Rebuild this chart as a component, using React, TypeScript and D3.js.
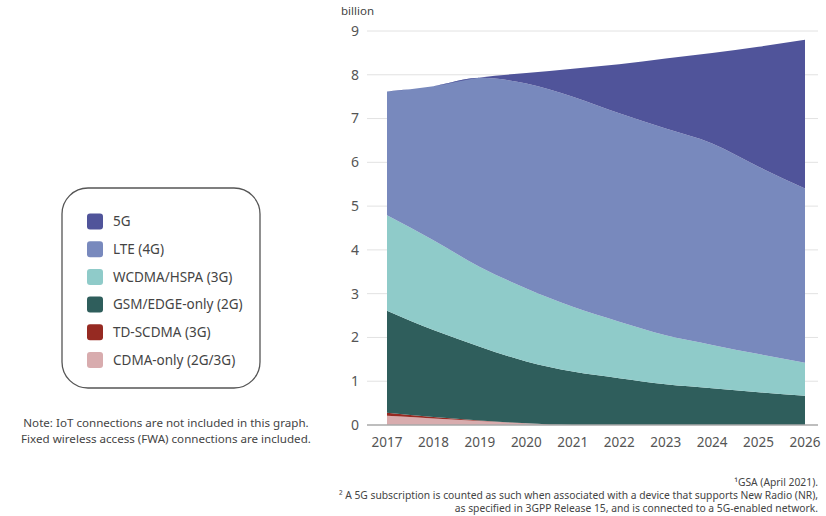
import * as d3 from "d3";

const years = [2017, 2018, 2019, 2020, 2021, 2022, 2023, 2024, 2025, 2026];

// billions of subscriptions
const cdma = [0.21, 0.15, 0.09, 0.04, 0, 0, 0, 0, 0, 0];
const tdscdma = [0.07, 0.03, 0.01, 0, 0, 0, 0, 0, 0, 0];
const gsm = [2.33, 1.99, 1.69, 1.41, 1.22, 1.07, 0.93, 0.84, 0.75, 0.67];
const wcdma = [2.18, 2.05, 1.82, 1.67, 1.48, 1.29, 1.12, 0.99, 0.87, 0.75];
const lte = [2.83, 3.52, 4.32, 4.68, 4.8, 4.76, 4.72, 4.6, 4.28, 3.98];
const fiveG = [0, 0, 0.01, 0.24, 0.64, 1.12, 1.6, 2.07, 2.74, 3.4];

const yTicks = [0, 1, 2, 3, 4, 5, 6, 7, 8, 9];

const series = [
  { key: "cdma", label: "CDMA-only (2G/3G)", color: "#d8acae", values: cdma },
  { key: "td", label: "TD-SCDMA (3G)", color: "#962a22", values: tdscdma },
  { key: "gsm", label: "GSM/EDGE-only (2G)", color: "#2f5e5c", values: gsm },
  { key: "wcdma", label: "WCDMA/HSPA (3G)", color: "#8fcbc9", values: wcdma },
  { key: "lte", label: "LTE (4G)", color: "#7889bd", values: lte },
  { key: "5g", label: "5G", color: "#50549a", values: fiveG },
];

const font = "'Noto Sans', sans-serif";

export default function App() {
  const width = 826;
  const height = 516;
  const x = d3.scaleLinear().domain([2017, 2026]).range([387, 805]);
  const y = d3.scaleLinear().domain([0, 9]).range([425, 31]);

  const rows = years.map((yr, i) => {
    const r: Record<string, number> = { year: yr };
    series.forEach((s) => (r[s.key] = s.values[i]));
    return r;
  });
  const stacked = d3.stack<Record<string, number>>().keys(series.map((s) => s.key))(rows);

  const area = d3
    .area<d3.SeriesPoint<Record<string, number>>>()
    .x((d) => x(d.data.year))
    .y0((d) => y(d[0]))
    .y1((d) => y(d[1]))
    .curve(d3.curveMonotoneX);

  const legendItems = [...series].reverse();

  return (
    <svg width={width} height={height} style={{ position: "absolute", left: 0, top: 0 }}>
      <rect width={width} height={height} fill="#fff" />
      {/* grid */}
      {yTicks.map((t) => (
        <g key={t}>
          {t > 0 && (
            <line x1={367} x2={818} y1={y(t)} y2={y(t)} stroke="#e2e2e2" strokeWidth={1} />
          )}
          <text
            x={355}
            y={y(t)}
            dy="0.35em"
            textAnchor="middle"
            fontFamily={font}
            fontSize={14}
            fill="#555"
          >
            {t}
          </text>
        </g>
      ))}
      <text x={341} y={15} fontFamily={font} fontSize={11.5} fill="#444">
        billion
      </text>
      {stacked.map((layer, i) => (
        <path key={layer.key} d={area(layer) ?? ""} fill={series[i].color} />
      ))}
      <line x1={367} x2={818} y1={y(0)} y2={y(0)} stroke="#a9a9a9" strokeWidth={1.5} />
      {years.map((yr) => (
        <text
          key={yr}
          x={x(yr)}
          y={447}
          textAnchor="middle"
          fontFamily={font}
          fontSize={13.5}
          fill="#555"
        >
          {yr}
        </text>
      ))}
      {/* legend */}
      <rect x={62} y={188} width={198} height={200} rx={26} fill="none" stroke="#555" strokeWidth={1.3} />
      {legendItems.map((s, i) => {
        const cy = 221.5 + i * 27.7;
        return (
          <g key={s.key}>
            <rect x={87} y={cy - 8} width={16} height={16} rx={3} fill={s.color} />
            <text x={113} y={cy} dy="0.35em" fontFamily={font} fontSize={13.5} fill="#444">
              {s.label}
            </text>
          </g>
        );
      })}
      <text x={166} y={427} textAnchor="middle" fontFamily={font} fontSize={11.6} fill="#444">
        Note: IoT connections are not included in this graph.
      </text>
      <text x={166} y={443} textAnchor="middle" fontFamily={font} fontSize={11.6} fill="#444">
        Fixed wireless access (FWA) connections are included.
      </text>
      <g fontFamily={font} fontSize={10.3} fill="#444" textAnchor="end">
        <text x={818} y={486}>¹GSA (April 2021).</text>
        <text x={818} y={499}>
          ² A 5G subscription is counted as such when associated with a device that supports New Radio (NR),
        </text>
        <text x={818} y={512}>
          as specified in 3GPP Release 15, and is connected to a 5G-enabled network.
        </text>
      </g>
    </svg>
  );
}
